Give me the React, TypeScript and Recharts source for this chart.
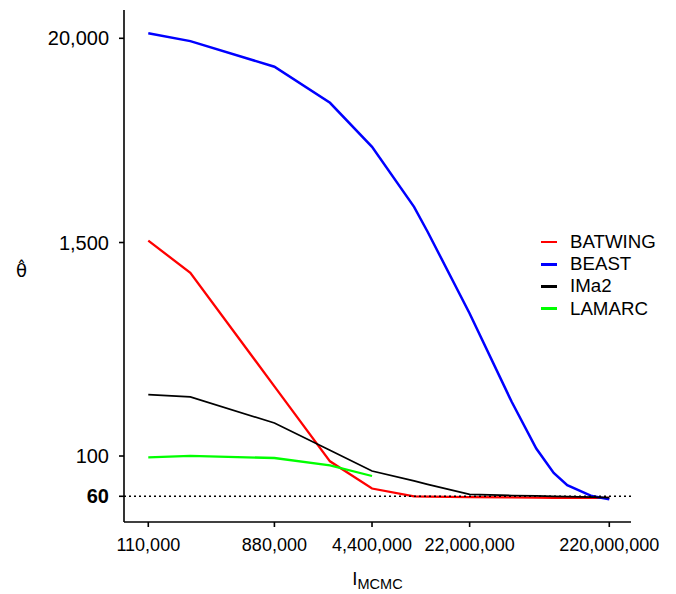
import React from 'react';
import { LineChart, Line, XAxis, YAxis, ReferenceLine, Legend, Label } from 'recharts';

const FONT = "'Liberation Sans', Arial, Helvetica, sans-serif";

// MCMC chain lengths (x)
const mcmcSteps = [
  110000, 220000, 880000, 2200000, 4400000, 8800000, 11000000, 22000000,
  44000000, 66000000, 88000000, 110000000, 165000000, 220000000,
];

// theta-hat estimates per method
const batwing = [1537, 1021, 242, 93.5, 66.2, 60, 59.8, 59.3, 59.1, 59, 58.9, 58.9, 58.8, 58.8];
const beast = [21300, 19300, 13950, 8830, 5050, 2360, 1720, 610, 199, 110, 80.7, 69, 60.2, 57.8];
const ima2 = [218, 211.6, 152, 107.7, 82.7, 72.9, 69.8, 61.5, 60.6, 60.3, 60.0, 59.8, 59.4, 59.0];
const lamarc = [98.4, 100.1, 97.5, 88.9, 77.6];

const xTicks = [110000, 880000, 4400000, 22000000, 220000000];
const yTicks = [60, 100, 1500, 20000];
const trueTheta = 60;

const seriesNames = ['BATWING', 'BEAST', 'IMa2', 'LAMARC'];
const seriesColors = ['#ff0000', '#0000ff', '#000000', '#00ff00'];
const seriesWidths = [2.3, 2.5, 1.7, 2.3];
const seriesValues = [batwing, beast, ima2, lamarc];

const data = mcmcSteps.map((x, i) => {
  const row: any = { x };
  seriesNames.forEach((n, k) => {
    const v = seriesValues[k][i];
    row[n] = v === undefined ? null : v;
  });
  return row;
});

const fmt = (v: number) => v.toLocaleString('en-US');

const YTick = (props: any) => {
  const { x, y, payload } = props;
  return (
    <text
      x={x}
      y={y}
      dy="0.355em"
      textAnchor="end"
      fontSize={20}
      fontFamily={FONT}
      fill="#000"
      fontWeight={payload.value === trueTheta ? 'bold' : 'normal'}
    >
      {fmt(payload.value)}
    </text>
  );
};

const XAxisTitle = (props: any) => {
  const vb = props.viewBox || {};
  const cx = vb.x + vb.width / 2;
  const y = vb.y + 63;
  return (
    <text x={cx} y={y} textAnchor="middle" fontFamily={FONT} fill="#000">
      <tspan fontSize={18.6}>I</tspan>
      <tspan fontSize={14.5} dy={3.5}>MCMC</tspan>
    </text>
  );
};

const YAxisTitle = (props: any) => {
  const vb = props.viewBox || {};
  const cx = vb.x + 13.5;
  const y = vb.y + vb.height / 2 + 11;
  return (
    <text x={cx} y={y} textAnchor="middle" fontFamily="'DejaVu Sans'" fontSize={18} fill="#000">
      {'\u03B8\u0302'}
    </text>
  );
};

const LegendContent = (props: any) => {
  const payload = props.payload || [];
  return (
    <div style={{ fontFamily: FONT, fontSize: 18.7, color: '#000' }}>
      {payload.map((item: any) => (
        <div key={item.value} style={{ display: 'flex', alignItems: 'center', height: 22.2 }}>
          <span
            style={{
              display: 'inline-block',
              width: 16,
              height: 2.5,
              background: item.color,
              marginRight: 13,
            }}
          />
          <span style={{ lineHeight: '22px' }}>{item.value}</span>
        </div>
      ))}
    </div>
  );
};

export default function App() {
  return (
    <LineChart width={660} height={586} data={data} margin={{ top: 2, right: 37, bottom: 0, left: 0 }}>
      <XAxis
        dataKey="x"
        type="number"
        scale="log"
        domain={[73700, 314700000]}
        allowDataOverflow
        ticks={xTicks}
        interval={0}
        tickFormatter={fmt}
        tickSize={5}
        tickMargin={11}
        height={72}
        axisLine={{ stroke: '#000', strokeWidth: 1.6 }}
        tickLine={{ stroke: '#000', strokeWidth: 1.6 }}
        tick={{ fontSize: 18, fill: '#000', fontFamily: FONT }}
      >
        <Label content={XAxisTitle} />
      </XAxis>
      <YAxis
        type="number"
        scale="log"
        domain={[43.3, 28640]}
        allowDataOverflow
        ticks={yTicks}
        interval={0}
        width={116}
        tickSize={5}
        tickMargin={10}
        axisLine={{ stroke: '#000', strokeWidth: 1.6 }}
        tickLine={{ stroke: '#000', strokeWidth: 1.6 }}
        tick={YTick}
      >
        <Label content={YAxisTitle} />
      </YAxis>
      <Legend
        layout="vertical"
        align="center"
        verticalAlign="middle"
        content={LegendContent}
        wrapperStyle={{ left: 533, top: 223, width: 130 }}
      />
      {seriesNames.map((n, k) => (
        <Line
          key={n}
          type="linear"
          dataKey={n}
          name={n}
          stroke={seriesColors[k]}
          strokeWidth={seriesWidths[k]}
          dot={false}
          activeDot={false}
          isAnimationActive={false}
        />
      ))}
      <ReferenceLine y={trueTheta} stroke="#000" strokeWidth={1.6} strokeDasharray="2 3" />
    </LineChart>
  );
}
